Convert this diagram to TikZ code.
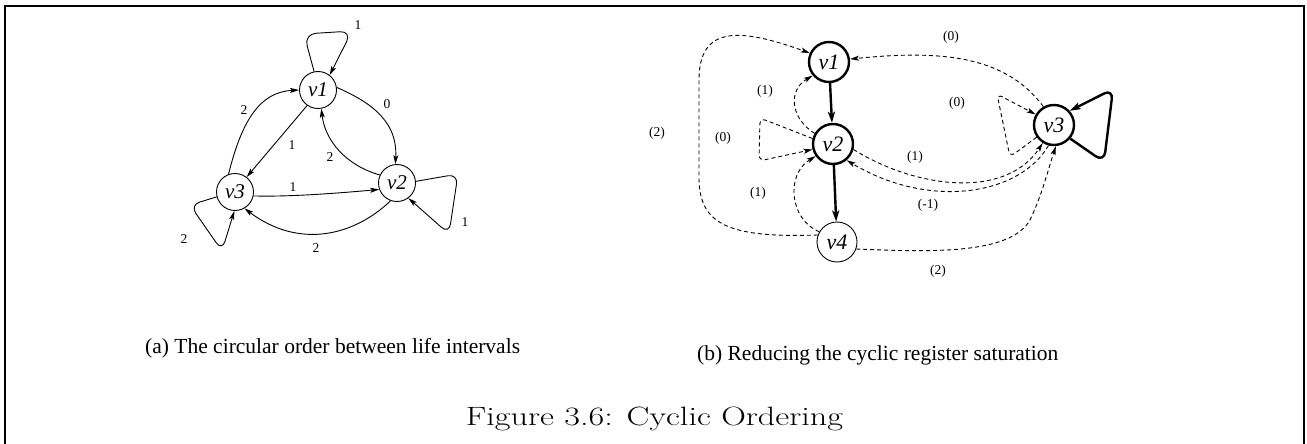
\documentclass[tikz,border=0pt]{standalone}
\usepackage{fontspec}
\newfontfamily\tms{Liberation Serif}
\usetikzlibrary{arrows.meta}
\tikzset{
  lnode/.style={circle,draw,line width=0.9pt,minimum size=37pt,inner sep=0pt,font=\tms\itshape\fontsize{21}{21}\selectfont},
  rnode/.style={circle,draw,line width=2.4pt,minimum size=40pt,inner sep=0pt,font=\tms\itshape\fontsize{22}{22}\selectfont},
  rnodethin/.style={rnode,line width=0.9pt},
  thin edge/.style={line width=0.9pt,-{Stealth[length=9pt,width=5pt,inset=2pt]}},
  thick edge/.style={line width=2.4pt,-{Stealth[length=11pt,width=7pt,inset=2.5pt]}},
  dash edge/.style={line width=0.9pt,dash pattern=on 4pt off 3pt,-{Stealth[length=9pt,width=5pt,inset=2pt,sep=0pt]}},
  lab/.style={font=\tms\fontsize{13.5}{13.5}\selectfont,inner sep=0pt},
  captext/.style={font=\tms\fontsize{21.5}{21.5}\selectfont,inner sep=0pt,anchor=base west}
}
\begin{document}
\begin{tikzpicture}[x=1pt,y=-1pt]
\useasboundingbox (0,0) rectangle (1307,444);
% frame
\draw[line width=2pt] (5,444) -- (5,6) -- (1304,6) -- (1304,444);

% ---------- left graph ----------
\node[lnode] (L1) at (318,90) {v1};
\node[lnode] (L2) at (397,183) {v2};
\node[lnode] (L3) at (235,192) {v3};

\draw[thin edge,rounded corners=12pt] (L1.102) -- (304,34) -- (352,31) -- (L1.52);
\draw[thin edge] (L3.110) .. controls (242,120) and (260,92) .. (L1.180);
\draw[thin edge] (L1.235) -- (L3.52);
\draw[thin edge] (L1.8) .. controls (365,100) and (398,118) .. (L2.95);
\draw[thin edge] (L2.155) .. controls (345,165) and (325,140) .. (L1.280);
\draw[thin edge] (L3.-12) .. controls (290,197) and (340,193) .. (L2.200);
\draw[thin edge] (L2.250) .. controls (355,235) and (300,250) .. (L3.300);
\draw[thin edge,rounded corners=10pt] (L2.5) -- (458,174) -- (449,234) -- (L2.307);
\draw[thin edge,rounded corners=10pt] (L3.195) -- (190,205) -- (222,251) -- (L3.268);

\node[lab] (l1) at (358,25) {1};
\node[lab] (l2) at (387,104) {0};
\node[lab] (l3) at (244,110) {2};
\node[lab] (l4) at (292,145) {1};
\node[lab] (l5) at (330,157) {2};
\node[lab] (l6) at (293,187) {1};
\node[lab] (l7) at (316,248) {2};
\node[lab] (l8) at (184,239) {2};
\node[lab] (l9) at (465,222) {1};

% ---------- right graph ----------
\node[rnode] (R1) at (829,62) {v1};
\node[rnode] (R2) at (833,144) {v2};
\node[rnodethin] (R4) at (837,242) {v4};
\node[rnode] (R3) at (1054,125) {v3};

\draw[thick edge] (R1) -- (R2);
\draw[thick edge] (R2) -- (R4);
\draw[thick edge,rounded corners=10pt] (R3.-40) -- (1104,162) -- (1113,89) -- (R3.42);

\draw[dash edge] (R4.160) .. controls (730,238) and (700,225) .. (699,180) -- (699,80) .. controls (699,25) and (740,28) .. (R1.155);
\draw[dash edge] (R3.120) .. controls (1005,55) and (940,50) .. (R1.8);
\draw[dash edge] (R2.150) .. controls (790,118) and (788,90) .. (R1.220);
\draw[dash edge,rounded corners=6pt] (R2.165) -- (760,118) -- (759,161) -- (R2.195);
\draw[dash edge] (R4.150) .. controls (790,220) and (785,175) .. (R2.215);
\draw[dash edge] (R2.-15) .. controls (915,188) and (1005,200) .. (R3.238);
\draw[dash edge] (R3.255) .. controls (1020,195) and (930,210) .. (R2.-50);
\draw[dash edge,rounded corners=6pt] (R3.215) -- (1010,157) -- (997,94) -- (R3.150);
\draw[dash edge] (R4.-20) .. controls (930,252) and (1010,255) .. (1030,220) .. controls (1042,195) and (1048,170) .. (R3.275);

\node[lab] (r1) at (951,37) {(0)};
\node[lab] (r2) at (765,91) {(1)};
\node[lab] (r3) at (957,103) {(0)};
\node[lab] (r4) at (657,133) {(2)};
\node[lab] (r5) at (723,138) {(0)};
\node[lab] (r6) at (915,157) {(1)};
\node[lab] (r7) at (758,193) {(1)};
\node[lab] (r8) at (928,205) {(-1)};
\node[lab] (r9) at (938,271) {(2)};

% ---------- captions ----------
\node[captext] (ca) at (145,353) {(a) The circular order between life intervals};
\node[captext] (cb) at (697,360) {(b) Reducing the cyclic register saturation};
\node[inner sep=0pt,anchor=base] (fig) at (654.5,425) {\scalebox{1.29}[1]{\fontsize{26.5}{26.5}\selectfont Figure 3.6: Cyclic Ordering}};
\end{tikzpicture}
\end{document}
